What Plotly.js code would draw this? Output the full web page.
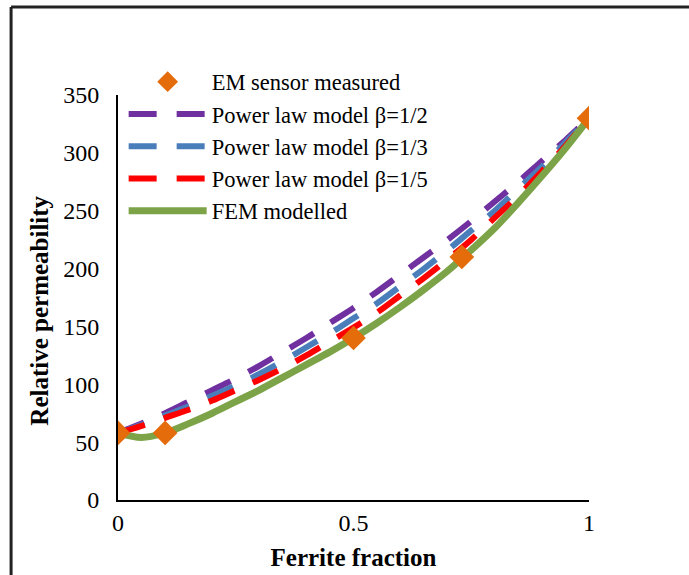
<!DOCTYPE html>
<html>
<head>
<meta charset="utf-8">
<script src="https://cdn.plot.ly/plotly-3.0.1.min.js"></script>
<style>
html,body{margin:0;padding:0;background:#fff;}
#chart{width:689px;height:575px;}
</style>
</head>
<body>
<div id="chart"></div>
<script>
// Measured points
const measuredX = [0, 0.1, 0.5, 0.73, 1];
const measuredY = [58, 58, 140, 210, 330];

// Model curves sampled along ferrite fraction
const modelX = [0, 0.05, 0.1, 0.15, 0.2, 0.25, 0.3, 0.35, 0.4, 0.45, 0.5,
                0.55, 0.6, 0.65, 0.7, 0.75, 0.8, 0.85, 0.9, 0.95, 1];
const powerHalf  = [58, 66, 75, 85, 95, 105, 116, 128, 140, 153, 166,
                    180, 195, 210, 225, 241, 258, 275, 293, 311, 330];
const powerThird = [58, 65, 73, 81, 90, 99, 109, 120, 132, 144, 157,
                    170, 185, 200, 216, 233, 250, 269, 288, 309, 330];
const powerFifth = [58, 64, 71, 78, 86, 95, 104, 114, 125, 137, 149,
                    162, 177, 192, 208, 225, 244, 263, 284, 306, 330];
const femY       = [58, 54, 58, 66, 75, 85, 95, 106, 117, 128, 140,
                    153, 167, 182, 198, 216, 235, 257, 280, 304, 330];

const xTicks = [0, 0.5, 1];
const xTickText = ['0', '0.5', '1'];
const yTicks = [0, 50, 100, 150, 200, 250, 300, 350];

const serif = 'Liberation Serif, Times New Roman, serif';
const dashPat = '28px,20px';

const traces = [
  {x: modelX, y: powerHalf, name: 'Power law model β=1/2', mode: 'lines', legendrank: 2,
   line: {color: '#7030A0', width: 6, dash: dashPat, shape: 'spline'}},
  {x: modelX, y: powerThird, name: 'Power law model β=1/3', mode: 'lines', legendrank: 3,
   line: {color: '#4A7EBB', width: 6, dash: dashPat, shape: 'spline'}},
  {x: modelX, y: powerFifth, name: 'Power law model β=1/5', mode: 'lines', legendrank: 4,
   line: {color: '#FF0000', width: 6, dash: dashPat, shape: 'spline'}},
  {x: modelX, y: femY, name: 'FEM modelled', mode: 'lines', legendrank: 5,
   line: {color: '#7DA348', width: 7, shape: 'spline', smoothing: 1}},
  {x: measuredX, y: measuredY, name: 'EM sensor measured', mode: 'markers', legendrank: 1,
   marker: {symbol: 'diamond', size: 19, color: '#E46C0A'}}
];

const layout = {
  width: 689, height: 575,
  margin: {l: 118, r: 100, t: 95, b: 75},
  paper_bgcolor: '#ffffff', plot_bgcolor: '#ffffff',
  font: {family: serif, size: 24, color: '#000'},
  showlegend: true,
  legend: {
    x: 0.012, y: 1.085, xanchor: 'left', yanchor: 'top',
    bgcolor: 'rgba(0,0,0,0)', itemwidth: 78,
    font: {family: serif, size: 22.5, color: '#000'},
    tracegroupgap: 0, traceorder: 'normal'
  },
  xaxis: {
    range: [0, 1], tickvals: xTicks, ticktext: xTickText,
    showgrid: false, zeroline: false, showline: true, linecolor: '#000', linewidth: 2,
    ticks: '', tickfont: {family: serif, size: 24}, ticklabelstandoff: 0,
    title: {text: '<b>Ferrite fraction</b>', font: {family: serif, size: 25}, standoff: 14}
  },
  yaxis: {
    range: [0, 350], tickvals: yTicks,
    showgrid: false, zeroline: false, showline: true, linecolor: '#000', linewidth: 2,
    ticks: '', tickfont: {family: serif, size: 24}, ticklabelstandoff: 12
  },
  annotations: [
    {text: '<b>Relative permeability</b>', xref: 'paper', yref: 'paper',
     x: -0.166, y: 0.467, xanchor: 'center', yanchor: 'middle', textangle: -90,
     showarrow: false, font: {family: serif, size: 25, color: '#000'}}
  ],
  shapes: [
    {type: 'line', xref: 'paper', yref: 'paper', x0: -0.227, x1: 1.3, y0: 1.217, y1: 1.217,
     line: {color: '#222', width: 3}},
    {type: 'line', xref: 'paper', yref: 'paper', x0: -0.227, x1: -0.227, y0: 1.217, y1: -0.3,
     line: {color: '#222', width: 3}}
  ]
};

Plotly.newPlot('chart', traces, layout, {staticPlot: true});
</script>
</body>
</html>
